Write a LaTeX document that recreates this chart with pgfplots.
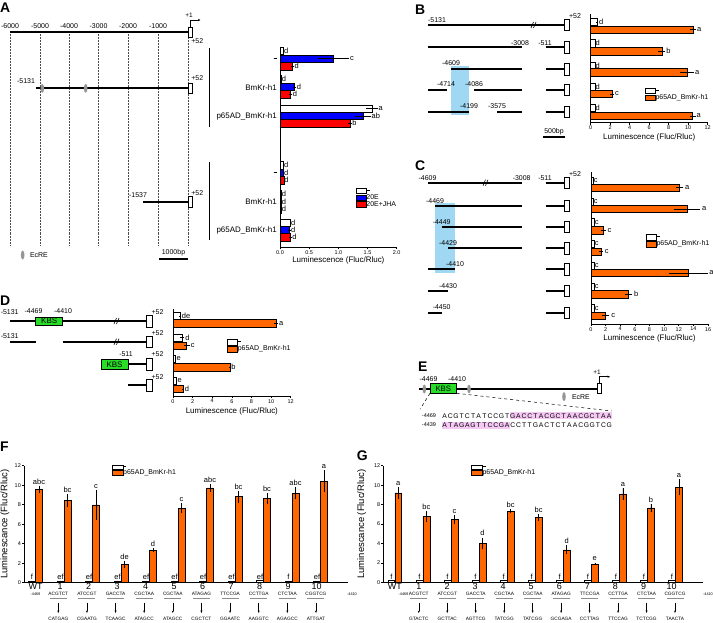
\documentclass[border=0pt]{standalone}
\usepackage{fontspec}
\setmainfont{Liberation Sans}
\setsansfont{Liberation Sans}
\usepackage{pgfplots}
\pgfplotsset{compat=1.18}
\usetikzlibrary{arrows.meta}

\definecolor{orng}{RGB}{255,102,0}
\definecolor{bblue}{RGB}{0,0,255}
\definecolor{rred}{RGB}{255,0,0}
\definecolor{skyb}{RGB}{160,216,244}
\definecolor{kbs}{RGB}{40,220,40}
\definecolor{pinkh}{RGB}{246,200,244}
\definecolor{ecre}{RGB}{150,150,150}

\newcommand\fs[1]{\fontsize{#1}{#1}\selectfont}
\newcommand\dash{\raisebox{1.7bp}{\rule{3.2bp}{0.95bp}}}
\def\seqloop#1{\ifx#1\relax\else\makebox[5.67bp]{#1}\expandafter\seqloop\fi}
\newcommand\lR[3]{\node[anchor=west,font=\fs{7.5},inner sep=0.4bp] at (axis cs:#1,#2) {#3};}
\newcommand\lT[3]{\node[anchor=south,font=\fs{7.5},inner sep=0.4bp] at (axis cs:#1,#2) {#3};}

\pgfplotsset{
  lum/.style={
    scale only axis, anchor=south west, clip=false,
    axis x line*=bottom, axis y line*=left,
    axis line style={line width=0.8bp},
    every tick/.style={black, line width=0.6bp},
    tick align=outside, major tick length=2bp,
    tick label style={font=\fs{5.5}, inner sep=1bp},
    /pgf/number format/assume math mode=true,
    label style={font=\fs{8}},
    legend style={draw=none, fill=none, font=\fs{7}, inner sep=0pt,
      nodes={inner sep=0.4bp, text height=4.9bp, text depth=1.2bp},
      row sep=0pt, cells={anchor=west}},
  },
  hbar/.style={xbar, bar shift=0pt, bar width=7.4, draw=black, line width=0.5bp,
    legend image code/.code={\draw[##1, line width=0.5bp] (0bp,-2.8bp) rectangle (9.5bp,2.8bp);},
    error bars/x dir=both, error bars/x explicit, error bars/error mark=none,
    error bars/error bar style={line width=0.6bp, black}},
  vbar/.style={ybar, bar shift=0pt, bar width=6.8bp, draw=black, line width=0.5bp,
    legend image code/.code={\draw[##1, line width=0.5bp] (0bp,-2.4bp) rectangle (11bp,2.4bp);},
    error bars/y dir=both, error bars/y explicit, error bars/error mark=none,
    error bars/error bar style={line width=0.6bp, black}},
}

\begin{document}
\begin{tikzpicture}
\useasboundingbox (0,0) rectangle (713bp,-623bp);
\begin{scope}[x=1bp,y=-1bp]
% ---------- panel letters
\node[anchor=base west, inner sep=0, font=\fs{14}\bfseries] at (0,12.7) {A};
\node[anchor=base west, inner sep=0, font=\fs{14}\bfseries] at (415,14) {B};
\node[anchor=base west, inner sep=0, font=\fs{14}\bfseries] at (415,170.7) {C};
\node[anchor=base west, inner sep=0, font=\fs{14}\bfseries] at (0,305) {D};
\node[anchor=base west, inner sep=0, font=\fs{14}\bfseries] at (418,371.7) {E};
\node[anchor=base west, inner sep=0, font=\fs{14}\bfseries] at (0,451.7) {F};
\node[anchor=base west, inner sep=0, font=\fs{14}\bfseries] at (356.7,460) {G};

% ---------- panel A diagram
\foreach \x in {10,40,69,98.5,128,158,188.3}
  \draw[black!70, densely dotted, line width=0.5bp] (\x,34) -- (\x,245);
\draw[line width=2bp] (10,31.5) -- (188.3,31.5);
\foreach \x/\l in {10/-6000,40/-5000,69/-4000,98.5/-3000,128/-2000,158/-1000}
  \node[font=\fs{7}] at (\x,26) {\l};
\draw[line width=0.5bp, fill=white] (188.3,27) rectangle (192.5,37);
\draw[line width=0.5bp, -{Stealth[length=2.5bp,width=2.2bp]}] (190.4,27)--(190.4,20)--(200.5,20);
\node[font=\fs{6.5}] at (189,15.5) {+1};
\node[font=\fs{7}] at (197.3,40.7) {+52};
\draw[line width=2bp] (36,88.3)--(188.3,88.3);
\draw[line width=0.5bp, fill=white] (188.3,83) rectangle (192.5,93.5);
\fill[ecre] (42.3,88.3) ellipse (1.8 and 4.5);
\fill[ecre] (85.7,88.3) ellipse (1.8 and 4.5);
\node[font=\fs{7}] at (26,81.5) {-5131};
\node[font=\fs{7}] at (197.3,78.3) {+52};
\draw[line width=2bp] (143,201.7)--(188.3,201.7);
\draw[line width=0.5bp, fill=white] (188.3,196.5) rectangle (192.5,207);
\node[font=\fs{7}] at (138,195.5) {-1537};
\node[font=\fs{7}] at (197.3,192.7) {+52};
\draw[line width=0.6bp] (209,48)--(209,126.5);
\draw[line width=0.6bp] (209,162)--(209,240);
\fill[ecre] (22.7,255) ellipse (1.8 and 4.5);
\node[anchor=west, font=\fs{7}] at (26.5,255) {EcRE};
\draw[line width=2bp] (159,258.7)--(188,258.7);
\node[font=\fs{7}] at (173.5,252.5) {1000bp};

% ---------- panel B diagram
\fill[skyb] (451,66) rectangle (469,115.3);
\draw[line width=2.2bp] (428,25)--(564,25);
\draw[line width=0.6bp] (531,28)--(533.5,22) (533.5,28)--(536,22);
\draw[line width=2.2bp] (428,47.3)--(522,47.3);
\draw[line width=2.2bp] (451,69.3)--(522,69.3);
\draw[line width=2.2bp] (428,90)--(446.7,90) (474.3,90)--(522,90);
\draw[line width=2.2bp] (428,112)--(469,112) (497.3,112)--(522,112);
\foreach \y in {47.3,69.3,90,112} \draw[line width=2.2bp] (545.5,\y)--(564,\y);
\foreach \y in {25,47.3,69.3,90,112} \draw[line width=0.5bp, fill=white] (564,\y-5.7) rectangle (569.5,\y+5.7);
\node[font=\fs{7}] at (437,20) {-5131};
\node[font=\fs{7}] at (575,16) {+52};
\node[font=\fs{7}] at (520,42.7) {-3008};
\node[font=\fs{7}] at (545,42.7) {-511};
\node[font=\fs{7}] at (451,62.7) {-4609};
\node[font=\fs{7}] at (446,84.3) {-4714};
\node[font=\fs{7}] at (474,84.3) {-4086};
\node[font=\fs{7}] at (469,106) {-4199};
\node[font=\fs{7}] at (497,106) {-3575};
\draw[line width=2bp] (543,137.3)--(565,137.3);
\node[font=\fs{7}] at (554,131.5) {500bp};

% ---------- panel C diagram
\fill[skyb] (435,202.7) rectangle (455,272.7);
\draw[line width=2.2bp] (428,182.7)--(522,182.7);
\draw[line width=0.6bp] (483,185.7)--(485.5,179.7) (485.5,185.7)--(488,179.7);
\draw[line width=2.2bp] (435,205.7)--(522,205.7);
\draw[line width=2.2bp] (441.7,226.7)--(522,226.7);
\draw[line width=2.2bp] (448.3,248.3)--(522,248.3);
\draw[line width=2.2bp] (428,269.3)--(455,269.3);
\draw[line width=2.2bp] (428,291)--(448.3,291);
\draw[line width=2.2bp] (428,312.7)--(441.7,312.7);
\foreach \y in {182.7,205.7,226.7,248.3,269.3,291,312.7} {
  \draw[line width=2.2bp] (545.5,\y)--(564,\y);
  \draw[line width=0.5bp, fill=white] (564,\y-5.7) rectangle (569.5,\y+5.7);}
\node[font=\fs{7}] at (427.5,177.7) {-4609};
\node[font=\fs{7}] at (521.7,177.7) {-3008};
\node[font=\fs{7}] at (545,177.7) {-511};
\node[font=\fs{7}] at (575,174) {+52};
\node[font=\fs{7}] at (435,200.7) {-4469};
\node[font=\fs{7}] at (441.7,221.7) {-4449};
\node[font=\fs{7}] at (448,243) {-4429};
\node[font=\fs{7}] at (455,264) {-4410};
\node[font=\fs{7}] at (448,285.7) {-4430};
\node[font=\fs{7}] at (441.7,306.7) {-4450};

% ---------- panel D diagram
\draw[line width=2.2bp] (10,321)--(146,321);
\draw[line width=0.6bp] (114,324)--(116.5,318) (116.5,324)--(119,318);
\draw[line width=0.5bp, fill=kbs] (35.7,317) rectangle (62.7,325.3);
\node[font=\fs{8}] at (49.2,321.2) {KBS};
\draw[line width=2.2bp] (10,341.7)--(35.7,341.7) (62.7,341.7)--(146,341.7);
\draw[line width=0.6bp] (114,344.7)--(116.5,338.7) (116.5,344.7)--(119,338.7);
\draw[line width=0.5bp, fill=kbs] (101,359.5) rectangle (128,368.8);
\node[font=\fs{8}] at (114.5,364.3) {KBS};
\draw[line width=2.2bp] (128,364.3)--(146,364.3);
\draw[line width=2.2bp] (128,385)--(146,385);
\foreach \y in {321,341.7,364.3,385} \draw[line width=0.5bp, fill=white] (146,\y-5.8) rectangle (152,\y+5.8);
\node[font=\fs{7}] at (9.7,311.7) {-5131};
\node[font=\fs{7}] at (33.5,311) {-4469};
\node[font=\fs{7}] at (63,311) {-4410};
\node[font=\fs{7}] at (157.5,311.7) {+52};
\node[font=\fs{7}] at (9.7,335.7) {-5131};
\node[font=\fs{7}] at (157.5,333) {+52};
\node[font=\fs{7}] at (126,354.3) {-511};
\node[font=\fs{7}] at (157.5,354) {+52};
\node[font=\fs{7}] at (157.5,376.7) {+52};

% ---------- panel E
\draw[line width=2bp] (419.3,389)--(597.3,389);
\fill[ecre] (424.3,389) ellipse (1.8 and 4.5);
\fill[ecre] (469,389) ellipse (1.8 and 4.5);
\draw[line width=0.5bp, fill=kbs] (430,383.3) rectangle (456.7,393.3);
\node[font=\fs{7.8}] at (443.3,388.5) {KBS};
\draw[line width=0.5bp, fill=white] (597.3,383.3) rectangle (601.7,393.3);
\draw[line width=0.5bp, -{Stealth[length=2.5bp,width=2.2bp]}] (599.5,383.3)--(599.5,376.7)--(610,376.7);
\node[font=\fs{6.5}] at (597,372.3) {+1};
\fill[ecre] (564,396.7) ellipse (1.8 and 4.5);
\node[anchor=west, font=\fs{7}] at (568.5,396.7) {EcRE};
\node[font=\fs{7}] at (428.5,379) {-4469};
\node[font=\fs{7}] at (457,379) {-4410};
\draw[line width=0.5bp, dashed] (430,393.3)--(420,409.3);
\draw[line width=0.5bp, dashed] (456.7,393.3)--(611.7,411);
\fill[pinkh] (509.7,412) rectangle (611.8,419.4);
\fill[pinkh] (441.7,421.6) rectangle (509.7,428.6);
\node[font=\fs{5.5}] at (429,415.7) {-4469};
\node[font=\fs{5.5}] at (429,425) {-4439};
\node[anchor=west, inner sep=0, font=\fs{6.8}] at (441.7,415.7) {\seqloop ACGTCTATCCGTGACCTACGCTAACGCTAA\relax};
\node[anchor=west, inner sep=0, font=\fs{6.8}] at (441.7,425) {\seqloop ATAGAGTTCCGACCTTGACTCTAACGGTCG\relax};

% ---------- F / G sequences
\node[font=\fs{3.8}] at (35.5,594.3) {-4469};
\node[font=\fs{3.8}] at (352,594.3) {-4410};
\node[font=\fs{3.8}] at (403.5,594.3) {-4469};
\node[font=\fs{3.8}] at (708,594.3) {-4410};
\foreach \i/\t/\b in {1/ACGTCT/CATGAG,2/ATCCGT/CGAATG,3/GACCTA/TCAAGC,4/CGCTAA/ATAGCC,5/CGCTAA/ATAGCC,6/ATAGAG/CGCTCT,7/TTCCGA/GGAATC,8/CCTTGA/AAGGTC,9/CTCTAA/AGAGCC,10/CGGTCG/ATTGAT} {
  \pgfmathsetmacro\c{58.3+28.63*(\i-1)}
  \node[font=\fs{4.8}, inner sep=0] at (\c,594.3) {\t};
  \draw[black!45, line width=0.9bp] (\c-8.5,598.5)--(\c+8.5,598.5);
  \draw[line width=0.5bp, -{Stealth[length=2.5bp,width=2bp]}] (\c,602.5)--(\c,613);
  \node[font=\fs{4.8}, inner sep=0] at (\c,618.5) {\b};
}
\foreach \i/\t/\b in {1/ACGTCT/GTACTC,2/ATCCGT/GCTTAC,3/GACCTA/AGTTCG,4/CGCTAA/TATCGG,5/CGCTAA/TATCGG,6/ATAGAG/GCGAGA,7/TTCCGA/CCTTAG,8/CCTTGA/TTCCAG,9/CTCTAA/TCTCGG,10/CGGTCG/TAACTA} {
  \pgfmathsetmacro\c{418.8+28.47*(\i-1)}
  \node[font=\fs{4.8}, inner sep=0] at (\c,594.3) {\t};
  \draw[black!45, line width=0.9bp] (\c-8.5,598.5)--(\c+8.5,598.5);
  \draw[line width=0.5bp, -{Stealth[length=2.5bp,width=2bp]}] (\c,602.5)--(\c,613);
  \node[font=\fs{4.8}, inner sep=0] at (\c,618.5) {\b};
}
\end{scope}

% ================= A chart
\begin{axis}[lum, at={(280bp,-247.3bp)}, width=116.7bp, height=200.3bp,
  xmin=0, xmax=2, ymin=-247.3, ymax=-47,
  xtick={0,0.5,1,1.5,2},
  ytick={-59,-87.3,-116,-173,-202,-230},
  yticklabels={\dash,BmKr-h1,p65AD\_BmKr-h1,\dash,BmKr-h1,p65AD\_BmKr-h1},
  yticklabel style={font=\fs{8}},
  ytick style={draw=none},
  xlabel={Luminescence (Fluc/Rluc)},
  xlabel style={at={(axis description cs:0.5,0)}, anchor=center, yshift=-12.7bp},
  legend style={at={(axis cs:1.30,-187)}, anchor=north west},
  xticklabel style={/pgf/number format/fixed, /pgf/number format/fixed zerofill, /pgf/number format/precision=1},
]
\addplot[hbar, fill=white] table[x=v,y=p,x error=e] {
p v e
-51 0.057 0
-79 0.02 0
-108.7 1.58 0.1
-165.3 0.057 0
-194.3 0.017 0
-222.7 0.18 0
};
\addlegendentry{\dash}
\addplot[hbar, fill=bblue] table[x=v,y=p,x error=e] {
p v e
-58.7 0.92 0.27
-87 0.25 0.03
-116 1.42 0.14
-173 0.06 0
-201.7 0.017 0
-230 0.16 0.02
};
\addlegendentry{20E}
\addplot[hbar, fill=rred] table[x=v,y=p,x error=e] {
p v e
-66.3 0.21 0.03
-94.3 0.18 0.03
-123.3 1.2 0.03
-180.3 0.065 0
-209.3 0.02 0
-237.3 0.18 0.02
};
\addlegendentry{20E+JHA}
\lR{0.06}{-51}{d}\lR{1.19}{-58.7}{c}\lR{0.24}{-66.3}{d}
\lR{0.02}{-79}{d}\lR{0.28}{-87}{d}\lR{0.21}{-94.3}{d}
\lR{1.68}{-108.7}{a}\lR{1.56}{-116}{ab}\lR{1.23}{-123.3}{b}
\lR{0.06}{-165.3}{d}\lR{0.06}{-173}{d}\lR{0.065}{-180.3}{d}
\lR{0.02}{-194.3}{d}\lR{0.02}{-201.7}{d}\lR{0.02}{-209.3}{d}
\lR{0.18}{-222.7}{d}\lR{0.18}{-230}{d}\lR{0.2}{-237.3}{d}
\end{axis}

% ================= B chart
\begin{axis}[lum, at={(590.7bp,-122.7bp)}, width=117bp, height=108.4bp,
  xmin=0, xmax=12, ymin=-122.7, ymax=-14.3, xtick={0,2,...,12}, ytick=\empty,
  xlabel={Luminescence (Fluc/Rluc)},
  xlabel style={at={(axis description cs:0.5,0)}, anchor=center, yshift=-14.3bp},
  legend style={at={(axis cs:5.57,-87)}, anchor=north west}]
\addplot[hbar, fill=white] table[x=v,y=p,x error=e] {
p v e
-22 0.68 0.1
-43.3 0.42 0
-65.7 0.42 0
-86.7 0.42 0
-108 0.42 0
};
\addlegendentry{\dash}
\addplot[hbar, fill=orng] table[x=v,y=p,x error=e] {
p v e
-29.7 10.5 0.3
-51.3 7.3 0.35
-72.3 9.9 0.7
-94 2.2 0.2
-116 10.45 0.3
};
\addlegendentry{p65AD\_BmKr-h1}
\lR{0.8}{-22}{d}\lR{0.45}{-43.3}{d}\lR{0.45}{-65.7}{d}\lR{0.45}{-86.7}{d}\lR{0.45}{-108}{d}
\lR{10.85}{-29.7}{a}\lR{7.7}{-51.3}{b}\lR{10.65}{-72.3}{a}\lR{2.45}{-94}{c}\lR{10.8}{-116}{a}
\end{axis}

% ================= C chart
\begin{axis}[lum, at={(591bp,-324bp)}, width=117bp, height=151.7bp,
  xmin=0, xmax=16, ymin=-324, ymax=-172.3, xtick={0,2,...,16}, ytick=\empty,
  xlabel={Luminescence (Fluc/Rluc)},
  xlabel style={at={(axis description cs:0.5,0)}, anchor=center, yshift=-14bp},
  legend style={at={(axis cs:7.52,-233.5)}, anchor=north west}]
\addplot[hbar, fill=white] table[x=v,y=p,x error=e] {
p v e
-180.7 0.25 0
-201.7 0.25 0
-222.3 0.4 0
-244 0.4 0
-265.7 0.4 0
-286.7 0.4 0
-308.3 0.4 0
};
\addlegendentry{\dash}
\addplot[hbar, fill=orng] table[x=v,y=p,x error=e] {
p v e
-187.7 12.1 0.5
-209 13.1 1.8
-230.3 1.7 0.35
-251.7 1.37 0.3
-273 13.3 2.7
-294.3 5.1 0.5
-315.7 2.0 0.5
};
\addlegendentry{p65AD\_BmKr-h1}
\lR{0.3}{-180.7}{c}\lR{0.3}{-201.7}{c}\lR{0.45}{-222.3}{c}\lR{0.45}{-244}{c}\lR{0.45}{-265.7}{c}\lR{0.45}{-286.7}{c}\lR{0.45}{-308.3}{c}
\lR{12.8}{-187.7}{a}\lR{15.1}{-209}{a}\lR{2.2}{-230.3}{c}\lR{1.8}{-251.7}{c}\lR{16.1}{-273}{a}\lR{5.8}{-294.3}{b}\lR{2.7}{-315.7}{c}
\end{axis}

% ================= D chart
\begin{axis}[lum, at={(173bp,-396bp)}, width=117.7bp, height=87bp,
  xmin=0, xmax=12, ymin=-396, ymax=-309, xtick={0,2,...,12}, ytick=\empty,
  xlabel={Luminescence (Fluc/Rluc)},
  xlabel style={at={(axis description cs:0.5,0)}, anchor=center, yshift=-15bp},
  legend style={at={(axis cs:5.53,-338.5)}, anchor=north west}]
\addplot[hbar, fill=white] table[x=v,y=p,x error=e] {
p v e
-316 0.7 0.1
-337.7 0.95 0.2
-359 0.27 0
-381 0.37 0
};
\addlegendentry{\dash}
\addplot[hbar, fill=orng] table[x=v,y=p,x error=e] {
p v e
-323.3 10.5 0.2
-345.7 1.4 0.3
-367.3 5.8 0.05
-389 1.0 0.1
};
\addlegendentry{p65AD\_BmKr-h1}
\lR{0.85}{-316}{de}\lR{1.2}{-337.7}{d}\lR{0.3}{-359}{e}\lR{0.4}{-381}{e}
\lR{10.75}{-323.3}{a}\lR{1.75}{-345.7}{c}\lR{5.9}{-367.3}{b}\lR{1.15}{-389}{d}
\end{axis}

% ================= F chart
\begin{axis}[lum, at={(24bp,-582.7bp)}, width=324bp, height=117bp,
  xmin=-0.404, xmax=10.965, ymin=0, ymax=12,
  ytick={0,2,...,12},
  xtick={0,0.86,1.86,2.86,3.86,4.86,5.86,6.86,7.86,8.86,9.86},
  xticklabels={WT,1,2,3,4,5,6,7,8,9,10},
  xticklabel style={font=\fs{9}, inner sep=0.5bp, yshift=2bp},
  xtick style={draw=none},
  ylabel={Luminescance (Fluc/Rluc)},
  ylabel style={at={(axis description cs:-0.0586,0.5)}, anchor=center, font=\fs{9.5}},
  legend style={at={(axis cs:2.66,12.15)}, anchor=north west,
    nodes={inner sep=0.2bp, text height=4.4bp, text depth=0.8bp}}]
\addplot[vbar, fill=white] table[x=i,y=v,y error=e] {
i v e
-0.123 0.2 0
0.877 0.2 0
1.877 0.2 0
2.877 0.2 0
3.877 0.2 0
4.877 0.2 0
5.877 0.2 0
6.877 0.2 0
7.877 0.25 0
8.877 0.2 0
9.877 0.2 0
};
\addlegendentry{\dash}
\addplot[vbar, fill=orng] table[x=i,y=v,y error=e] {
i v e
0.123 9.6 0.35
1.123 8.45 0.65
2.123 7.97 1.5
3.123 1.88 0.35
4.123 3.35 0.2
5.123 7.63 0.5
6.123 9.72 0.4
7.123 8.82 0.6
8.123 8.65 0.55
9.123 9.17 0.6
10.123 10.43 1.1
};
\addlegendentry{p65AD\_BmKr-h1}
\lT{-0.123}{0.25}{f}\lT{0.877}{0.25}{ef}\lT{1.877}{0.25}{ef}\lT{2.877}{0.25}{ef}\lT{3.877}{0.25}{ef}\lT{4.877}{0.25}{ef}
\lT{5.877}{0.25}{ef}\lT{6.877}{0.25}{ef}\lT{7.877}{0.3}{ef}\lT{8.877}{0.25}{f}\lT{9.877}{0.25}{ef}
\lT{0.123}{10.05}{abc}\lT{1.123}{9.2}{bc}\lT{2.123}{9.57}{c}\lT{3.123}{2.33}{de}\lT{4.123}{3.65}{d}\lT{5.123}{8.23}{c}
\lT{6.123}{10.22}{abc}\lT{7.123}{9.52}{bc}\lT{8.123}{9.3}{bc}\lT{9.123}{9.87}{abc}\lT{10.123}{11.63}{a}
\end{axis}

% ================= G chart
\begin{axis}[lum, at={(383.3bp,-582.3bp)}, width=320bp, height=116.6bp,
  xmin=-0.41, xmax=10.99, ymin=0, ymax=12,
  ytick={0,2,...,12},
  xtick={0,0.86,1.86,2.86,3.86,4.86,5.86,6.86,7.86,8.86,9.86},
  xticklabels={WT,1,2,3,4,5,6,7,8,9,10},
  xticklabel style={font=\fs{9}, inner sep=0.5bp, yshift=2bp},
  xtick style={draw=none},
  ylabel={Luminescance (Fluc/Rluc)},
  ylabel style={at={(axis description cs:-0.0675,0.5)}, anchor=center, font=\fs{9.5}},
  legend style={at={(axis cs:2.70,12.15)}, anchor=north west,
    nodes={inner sep=0.2bp, text height=4.4bp, text depth=0.8bp}}]
\addplot[vbar, fill=white] table[x=i,y=v,y error=e] {
i v e
-0.125 0.2 0
0.875 0.2 0
1.875 0.2 0
2.875 0.2 0
3.875 0.2 0
4.875 0.2 0
5.875 0.2 0
6.875 0.2 0
7.875 0.2 0
8.875 0.2 0
9.875 0.2 0
};
\addlegendentry{\dash}
\addplot[vbar, fill=orng] table[x=i,y=v,y error=e] {
i v e
0.125 9.2 0.6
1.125 6.8 0.55
2.125 6.45 0.5
3.125 4.0 0.6
4.125 7.3 0.2
5.125 6.7 0.35
6.125 3.35 0.45
7.125 1.88 0.15
8.125 9.1 0.6
9.125 7.65 0.4
10.125 9.8 0.8
};
\addlegendentry{p65AD\_BmKr-h1}
\lT{-0.125}{0.25}{f}\lT{0.875}{0.25}{f}\lT{1.875}{0.25}{f}\lT{2.875}{0.25}{f}\lT{3.875}{0.25}{f}\lT{4.875}{0.25}{f}
\lT{5.875}{0.25}{f}\lT{6.875}{0.25}{f}\lT{7.875}{0.25}{f}\lT{8.875}{0.25}{f}\lT{9.875}{0.25}{f}
\lT{0.125}{9.9}{a}\lT{1.125}{7.45}{bc}\lT{2.125}{7.05}{c}\lT{3.125}{4.7}{d}\lT{4.125}{7.6}{bc}\lT{5.125}{7.15}{bc}
\lT{6.125}{3.9}{d}\lT{7.125}{2.13}{e}\lT{8.125}{9.8}{a}\lT{9.125}{8.15}{b}\lT{10.125}{10.7}{a}
\end{axis}
\end{tikzpicture}
\end{document}
